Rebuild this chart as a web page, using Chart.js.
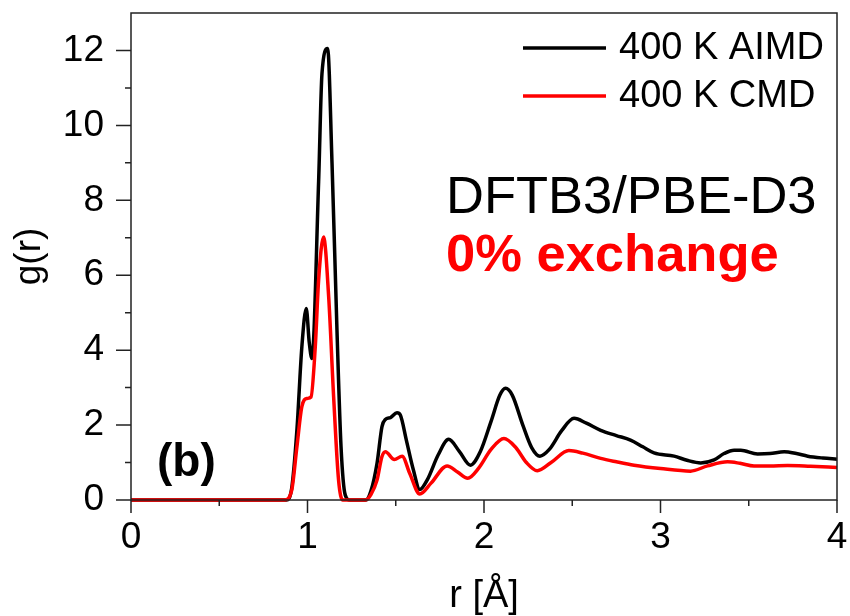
<!DOCTYPE html>
<html>
<head>
<meta charset="utf-8">
<script src="https://cdn.jsdelivr.net/npm/chart.js@4.4.0/dist/chart.umd.min.js"></script>
<style>
  html, body { margin: 0; padding: 0; background: #fff; }
  #wrap { width: 850px; height: 616px; }
</style>
</head>
<body>
<div id="wrap"><canvas id="gofr"></canvas></div>
<script>
// r in Angstrom, g(r)
const rAimd = [0, 0.88, 0.91, 0.94, 0.968, 0.993, 1.01, 1.025, 1.063, 1.082, 1.114, 1.139, 1.167, 1.19, 1.214, 1.24,
    1.33, 1.36, 1.394, 1.422, 1.441, 1.47, 1.507, 1.526, 1.56, 1.6, 1.636, 1.68, 1.74, 1.8, 1.86, 1.923, 1.98,
    2.04, 2.09, 2.122, 2.16, 2.22, 2.27, 2.317, 2.37, 2.44, 2.51, 2.58, 2.661, 2.75, 2.83, 2.9, 2.963,
    3.077, 3.15, 3.228, 3.304, 3.36, 3.417, 3.455, 3.55, 3.62, 3.701, 3.77, 3.834, 3.92, 4.0];
const gAimd = [0, 0, 0.3, 1.87, 4.09, 5.11, 4.2, 3.78, 8.5, 11.38, 12.05, 8.98, 4.53, 1.42, 0.13, 0,
    0, 0.25, 0.98, 1.96, 2.15, 2.2, 2.33, 2.27, 1.6, 0.8, 0.28, 0.55, 1.2, 1.62, 1.3, 0.93, 1.3,
    2.1, 2.8, 2.98, 2.8, 2.0, 1.4, 1.17, 1.35, 1.85, 2.18, 2.05, 1.86, 1.72, 1.6, 1.42, 1.26,
    1.17, 1.06, 0.99, 1.07, 1.24, 1.33, 1.33, 1.23, 1.24, 1.29, 1.24, 1.17, 1.12, 1.09];

const rCmd = [0, 0.87, 0.91, 0.94, 0.968, 0.997, 1.02, 1.044, 1.063, 1.091, 1.12, 1.148, 1.176, 1.2,
    1.33, 1.36, 1.394, 1.422, 1.441, 1.492, 1.536, 1.58, 1.636, 1.7, 1.791, 1.85, 1.908, 1.97,
    2.04, 2.113, 2.18, 2.24, 2.302, 2.38, 2.481, 2.56, 2.661, 2.75, 2.85, 3.0, 3.17, 3.266, 3.38,
    3.45, 3.53, 3.62, 3.72, 3.85, 4.0];
const gCmd = [0, 0, 0.25, 1.42, 2.49, 2.71, 2.75, 4.09, 5.87, 7.02, 5.42, 2.76, 0.53, 0,
    0, 0.15, 0.53, 1.16, 1.29, 1.08, 1.17, 0.7, 0.16, 0.45, 0.91, 0.75, 0.58, 0.85,
    1.35, 1.64, 1.4, 1.0, 0.78, 1.0, 1.32, 1.25, 1.11, 1.02, 0.93, 0.84, 0.77, 0.91, 1.02,
    0.98, 0.91, 0.91, 0.92, 0.9, 0.87];

const seriesLabels = ['400 K AIMD', '400 K CMD'];
const xTicks = [0, 1, 2, 3, 4];
const yTicks = [0, 2, 4, 6, 8, 10, 12];

const black = '#000000';
const red = '#ff0000';
const font = "'Liberation Sans', Arial, sans-serif";

function toPoints(xs, ys) {
    return xs.map((x, i) => ({ x: x, y: ys[i] }));
}

// frame, outward ticks, legend and the text labels
const decorations = {
    id: 'decorations',
    afterDraw(chart) {
        const ctx = chart.ctx;
        const a = chart.chartArea;
        const xs = chart.scales.x;
        const ys = chart.scales.y;
        ctx.save();
        ctx.strokeStyle = '#222';
        ctx.lineWidth = 1.5;
        ctx.strokeRect(a.left, a.top, a.right - a.left, a.bottom - a.top);

        ctx.beginPath();
        for (let v = 0; v <= 4.001; v += 0.5) {
            const px = xs.getPixelForValue(v);
            const len = Number.isInteger(v) ? 13 : 6;
            ctx.moveTo(px, a.bottom);
            ctx.lineTo(px, a.bottom + len);
        }
        for (let v = 0; v <= 12; v += 1) {
            const py = ys.getPixelForValue(v);
            const len = v % 2 === 0 ? 15 : 6;
            ctx.moveTo(a.left, py);
            ctx.lineTo(a.left - len, py);
        }
        ctx.stroke();

        // legend
        chart.data.datasets.forEach((ds, i) => {
            const y = 48 + i * 48;
            ctx.strokeStyle = ds.borderColor;
            ctx.lineWidth = 3.5;
            ctx.beginPath();
            ctx.moveTo(523, y);
            ctx.lineTo(606, y);
            ctx.stroke();
            ctx.fillStyle = '#000';
            ctx.font = '38px ' + font;
            ctx.textBaseline = 'middle';
            ctx.textAlign = 'left';
            ctx.fillText(ds.label, 619, y + 1);
        });

        ctx.textBaseline = 'alphabetic';
        ctx.fillStyle = '#000';
        ctx.font = '52.5px ' + font;
        ctx.fillText('DFTB3/PBE-D3', 446, 213);
        ctx.fillStyle = red;
        ctx.font = 'bold 52.5px ' + font;
        ctx.fillText('0% exchange', 446, 271);
        ctx.fillStyle = '#000';
        ctx.font = 'bold 46px ' + font;
        ctx.fillText('(b)', 157, 476);
        ctx.restore();
    }
};

new Chart(document.getElementById('gofr'), {
    type: 'line',
    data: {
        datasets: [{
            label: seriesLabels[0],
            data: toPoints(rAimd, gAimd),
            borderColor: black,
            borderWidth: 3.5,
            pointRadius: 0,
            fill: false,
            cubicInterpolationMode: 'monotone',
            clip: 6,
            order: 1
        }, {
            label: seriesLabels[1],
            data: toPoints(rCmd, gCmd),
            borderColor: red,
            borderWidth: 3.5,
            pointRadius: 0,
            fill: false,
            cubicInterpolationMode: 'monotone',
            clip: 6,
            order: 0
        }]
    },
    options: {
        responsive: true,
        maintainAspectRatio: false,
        animation: false,
        layout: { padding: { top: 13, right: 13, left: 0, bottom: 0 } },
        plugins: {
            legend: { display: false },
            tooltip: { enabled: false }
        },
        scales: {
            x: {
                type: 'linear',
                min: 0,
                max: 4,
                afterFit(scale) {
                    scale.height = 116;
                    scale.paddingLeft = 0;
                    scale.paddingRight = 0;
                },
                grid: { display: false },
                border: { display: false },
                afterBuildTicks(scale) { scale.ticks = xTicks.map(v => ({ value: v })); },
                ticks: {
                    color: '#000',
                    padding: 8,
                    maxRotation: 0,
                    font: { family: font, size: 37 }
                },
                title: {
                    display: true,
                    text: 'r [Å]',
                    color: '#000',
                    padding: { top: 0, bottom: 0 },
                    font: { family: font, size: 38, lineHeight: 1 }
                }
            },
            y: {
                min: 0,
                max: 13,
                afterFit(scale) {
                    scale.width = 131;
                    scale.paddingTop = 0;
                    scale.paddingBottom = 0;
                },
                grid: { display: false },
                border: { display: false },
                afterBuildTicks(scale) { scale.ticks = yTicks.map(v => ({ value: v })); },
                ticks: {
                    color: '#000',
                    padding: 19,
                    font: { family: font, size: 37 }
                },
                title: {
                    display: true,
                    text: 'g(r)',
                    color: '#000',
                    padding: { top: 8, bottom: 0 },
                    font: { family: font, size: 37 }
                }
            }
        }
    },
    plugins: [decorations]
});
</script>
</body>
</html>
